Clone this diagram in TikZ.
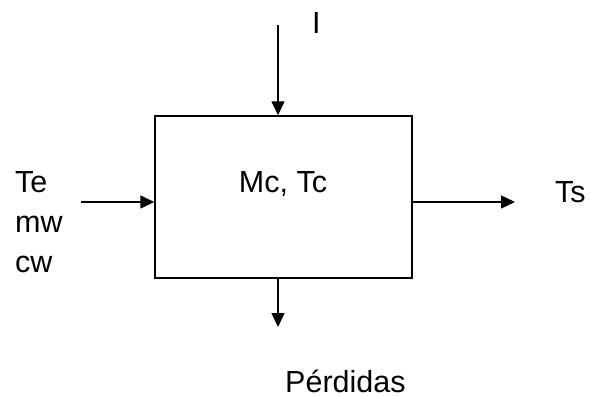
\documentclass[tikz,border=0pt]{standalone}
\usepackage{fontspec}
\setmainfont{Liberation Sans}
\usetikzlibrary{arrows.meta}
\begin{document}
\begin{tikzpicture}[x=1pt,y=-1pt,
  lbl/.style={font=\fontsize{30.5}{36}\selectfont, inner sep=0pt, text=black},
  flow/.style={line width=1.4pt, -{Triangle[length=14pt,width=13pt]}},
  blk/.style={draw, line width=1.4pt, minimum width=257pt, minimum height=162pt, inner sep=0pt}]
\useasboundingbox (0,0) rectangle (590,396);
\node[blk] (box) at (283.5,197) {};
\node[lbl, anchor=base] (mc) at (283,193) {Mc, Tc};
\coordinate (tstart) at (278,25);
\coordinate (lstart) at (81,202);
\coordinate (rend) at (515,202);
\coordinate (bend) at (278,327);
\draw[flow] (tstart) -- (tstart |- box.north);
\draw[flow] (lstart) -- (lstart -| box.west);
\draw[flow] (rend -| box.east) -- (rend);
\draw[flow] (bend |- box.south) -- (bend);
\node[lbl, anchor=base west] (i) at (312,34) {I};
\node[lbl, anchor=base west] (te) at (15,193) {Te};
\node[lbl, anchor=base west] (mw) at (15,233) {mw};
\node[lbl, anchor=base west] (cw) at (15,272) {cw};
\node[lbl, anchor=base west] (ts) at (555,203) {Ts};
\node[lbl, anchor=base west] (perd) at (285,392) {Pérdidas};
\end{tikzpicture}
\end{document}
